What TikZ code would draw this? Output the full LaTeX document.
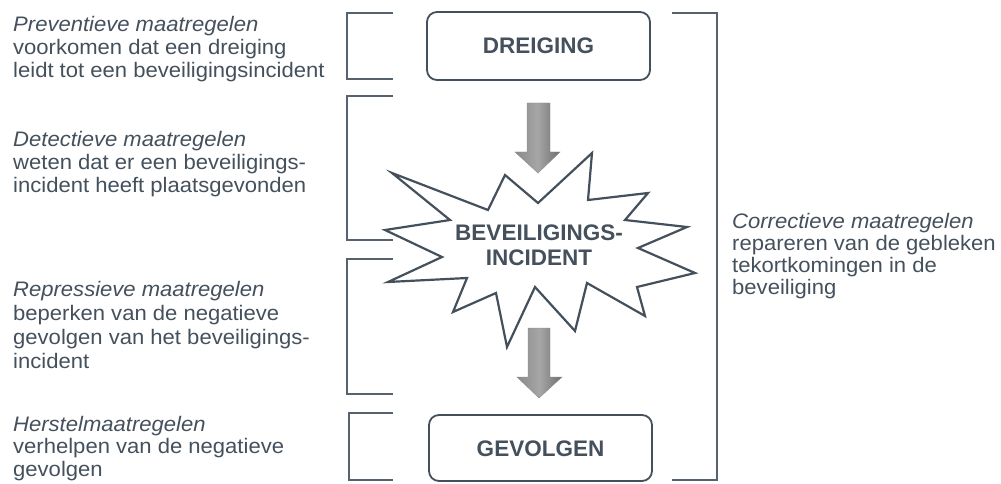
\documentclass[tikz,border=0pt]{standalone}
\usepackage{fontspec}
\setmainfont{Liberation Sans}
\newfontfamily\descfont[FakeStretch=1.05]{Liberation Sans}
\usetikzlibrary{calc}
\definecolor{ink}{HTML}{44505C}
\definecolor{brk}{HTML}{56626E}
\definecolor{arrL}{HTML}{8A8A8A}
\definecolor{arrM}{HTML}{A6A6A6}
\definecolor{arrR}{HTML}{6E6E6E}
\tikzset{
  bracketline/.style={draw=brk, line width=1.4pt},
  eventbox/.style={draw=ink, line width=1.8pt, rounded corners=10pt, fill=white},
  boxtext/.style={font=\bfseries\fontsize{22.5}{24}\selectfont, text=ink, inner sep=0pt},
  desc/.style={font=\descfont\fontsize{21}{23}\selectfont, text=ink, align=left, anchor=north west, inner sep=0pt},
  burst/.style={draw=ink, line width=2.2pt, fill=white, line join=miter},
  blockarrow/.style={left color=arrL, right color=arrR, middle color=arrM, draw=arrR!80, line width=0.4pt}
}
\begin{document}
\begin{tikzpicture}[x=1pt,y=-1pt]
\useasboundingbox (0,0) rectangle (1001,484);
% left brackets
\draw[bracketline] (393,13) -- (347,13) -- (347,79) -- (393,79);
\draw[bracketline] (393,96) -- (347,96) -- (347,240) -- (393,240);
\draw[bracketline] (393,259) -- (347,259) -- (347,394) -- (393,394);
\draw[bracketline] (393,413) -- (349,413) -- (349,480) -- (393,480);
% right bracket
\draw[bracketline] (672,13) -- (717,13) -- (717,480) -- (672,480);
% boxes
\draw[eventbox] (427,12) rectangle (650,80);
\node[boxtext] (dreiging) at (538.5,46) {DREIGING};
\draw[eventbox] (429,415) rectangle (652,481);
\node[boxtext] (gevolgen) at (540.5,449) {GEVOLGEN};
% starburst
\draw[burst] (392,173) -- (488,210) -- (505,175) -- (538,203) -- (592,153) -- (588,200)
  -- (648,193) -- (625,220) -- (687,227) -- (638,248) -- (695,273) -- (637,287)
  -- (645,316) -- (587,283) -- (575,331) -- (535,287) -- (507,347) -- (496,293)
  -- (453,312) -- (467,278) -- (388,282) -- (442,257) -- (385,230) -- (450,220) -- cycle;
\node[boxtext, font=\bfseries\fontsize{22.5}{25}\selectfont, align=center] (incident) at (539,245) {BEVEILIGINGS-\\INCIDENT};
% block arrows
\coordinate (a1) at (538,103);
\coordinate (a2) at (539,328);
\path[blockarrow] (527,103) -- (550,103) -- (550,152) -- (560,152) -- (538,173) -- (515,152) -- (527,152) -- cycle;
\path[blockarrow] (528,328) -- (550,328) -- (550,377) -- (562,377) -- (539,398) -- (517,377) -- (528,377) -- cycle;
% descriptions
\node[desc] (prev) at (13,16) {\textit{Preventieve maatregelen}\\voorkomen dat een dreiging\\leidt tot een beveiligingsincident};
\node[desc] (det) at (13,131) {\textit{Detectieve maatregelen}\\weten dat er een beveiligings-\\incident heeft plaatsgevonden};
\node[desc, font=\descfont\fontsize{21}{24}\selectfont] (rep) at (13,281) {\textit{Repressieve maatregelen}\\beperken van de negatieve\\gevolgen van het beveiligings-\\incident};
\node[desc, font=\descfont\fontsize{21}{22.5}\selectfont] (her) at (13,416) {\textit{Herstelmaatregelen}\\verhelpen van de negatieve\\gevolgen};
\node[desc, font=\descfont\fontsize{21}{22}\selectfont] (cor) at (732,213) {\textit{Correctieve maatregelen}\\repareren van de gebleken\\tekortkomingen in de\\beveiliging};
\end{tikzpicture}
\end{document}
